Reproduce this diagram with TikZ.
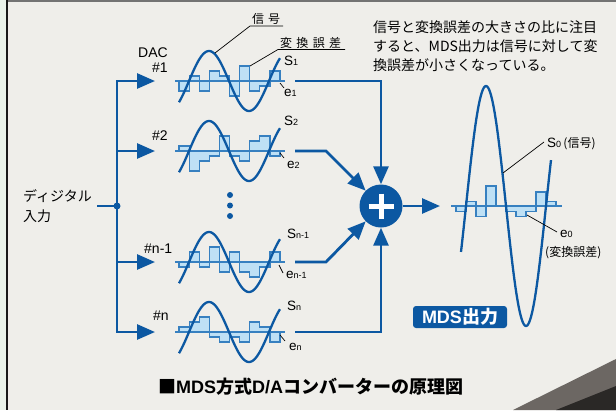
\documentclass[tikz,border=0pt]{standalone}
\usepackage{fontspec}
\setmainfont{Liberation Sans}
\newfontfamily\jp{Noto Sans CJK JP}
\usetikzlibrary{arrows.meta}
\definecolor{bg}{RGB}{239,238,234}
\definecolor{dblue}{RGB}{12,88,162}
\definecolor{mblue}{RGB}{55,128,192}
\definecolor{lblue}{RGB}{190,224,245}
\definecolor{lgreen}{RGB}{234,243,234}
\definecolor{wedgeA}{RGB}{108,103,99}
\definecolor{wedgeB}{RGB}{42,40,38}
\newcommand\sbs[1]{{\fontsize{9}{9}\selectfont #1}}
\newcommand\errsteps[4]{\filldraw[stepln] (#1,#3) \foreach \v [count=\i from 0] in {#4} { -- ({#1+#2*\i},{#3-(\v)}) -- ({#1+#2*\i+#2},{#3-(\v)}) } -- ({#1+10*#2},#3) -- cycle;}
\newcommand\dacwave[2]{%
  \errsteps{179}{10.1}{#1}{#2}
  \draw[baseln] (175,#1) -- (285,#1);
  \draw[sine] plot[domain=179:280,samples=90,smooth] (\x,{#1-30*cos((\x-209)*4.5)});
}
\begin{document}
\begin{tikzpicture}[x=1pt,y=-1pt,
  conn/.style={dblue, line width=2.8pt},
  tip/.style={-{Triangle[length=18pt,width=15pt]}},
  sine/.style={dblue, line width=2.3pt},
  stepln/.style={draw=mblue, fill=lblue, line width=1.2pt},
  baseln/.style={mblue, line width=1.3pt},
  leader/.style={black, line width=0.7pt},
  lab/.style={inner sep=0pt, anchor=base west},
  jpA/.style={font=\jp\fontsize{14}{18}\selectfont},
  jpB/.style={font=\jp\fontsize{12}{14}\selectfont},
  latA/.style={font=\fontsize{14}{16}\selectfont},
  sym/.style={font=\fontsize{13.5}{15}\selectfont},
]
\useasboundingbox (0,0) rectangle (616,410);
\fill[bg] (0,0) rectangle (616,410);
\fill[lgreen] (0,0) rectangle (6,410);
\fill[black!90] (6,0) rectangle (8,410);
\fill[black!55] (8,0) rectangle (616,1.6);
\fill[wedgeA] (513,410) -- (616,359) -- (616,410) -- cycle;
\fill[wedgeB] (556,410) -- (616,386) -- (616,410) -- cycle;

% DAC waves
\dacwave{81}{-10,5,-10,10,5,-15,15,-10,-5,10}
\dacwave{151}{5,-20,-10,-5,15,-5,-10,10,15,-5}
\dacwave{262}{-5,10,-5,15,-10,10,-10,-15,-5,10}
\dacwave{332}{5,10,15,-5,-10,-5,-10,10,5,-10}

% dots
\fill[dblue] (230,195) circle (3) (230,205.5) circle (3) (230,216) circle (3);

% input side
\node[jpA, lab] (inA) at (23,201) {ディジタル};
\node[jpA, lab] (inB) at (23,221) {入力};
\node[latA, lab] (dac) at (138,57) {DAC};
\node[latA, lab] (d1) at (152,72.5) {\#1};
\node[latA, lab] (d2) at (152,140) {\#2};
\node[latA, lab] (d3) at (144,253) {\#n-1};
\node[latA, lab] (d4) at (153,320) {\#n};

\coordinate (bt) at (117,81);
\coordinate (bb) at (117,332);
\coordinate (b2) at (117,151);
\coordinate (b3) at (117,262);
\coordinate (jn) at (117,206);
\coordinate (inl) at (97,206);
\coordinate (a1) at (155,81);
\coordinate (a2) at (155,151);
\coordinate (a3) at (155,262);
\coordinate (a4) at (155,332);
\draw[conn, {Triangle[length=18pt,width=15pt]}-{Triangle[length=18pt,width=15pt]}] (a1) -- (bt) -- (bb) -- (a4);
\draw[conn,tip] (b2) -- (a2);
\draw[conn,tip] (b3) -- (a3);
\draw[conn] (inl) -- (jn);
\fill[dblue] (jn) circle (3.5);

% adder
\node[circle, fill=dblue, minimum size=43pt, inner sep=0pt] (add) at (381,206) {};
\draw[white, line width=5pt] (add.center) ++(-12.5,0) -- ++(25,0) (add.center) ++(0,-12.5) -- ++(0,25);

\coordinate (o1) at (295,81);
\coordinate (o2) at (295,151);
\coordinate (k2) at (326,151);
\coordinate (o3) at (295,262);
\coordinate (k3) at (326,262);
\coordinate (o4) at (295,332);
\coordinate (oin) at (440,206);
\draw[conn,tip] (o1) -| (add.north);
\draw[conn,tip] (o2) -- (k2) -- (add.135);
\draw[conn,tip] (o3) -- (k3) -- (add.225);
\draw[conn,tip] (o4) -| (add.south);
\draw[conn,tip] (add.east) -- (oin);

% S / e labels
\node[sym, lab] (s1) at (284,65.5) {S\sbs{1}};
\node[sym, lab] (e1) at (284,96.5) {e\sbs{1}};
\node[sym, lab] (s2) at (284,125.5) {S\sbs{2}};
\node[sym, lab] (e2) at (287,168) {e\sbs{2}};
\node[sym, lab] (s3) at (287,238) {S\sbs{n-1}};
\node[sym, lab] (e3) at (286,278) {e\sbs{n-1}};
\node[sym, lab] (s4) at (287,310) {S\sbs{n}};
\node[sym, lab] (e4) at (289,350) {e\sbs{n}};
\coordinate (t1a) at (280,83);  \coordinate (t1b) at (284,88);
\coordinate (t2a) at (280,153); \coordinate (t2b) at (284,158);
\coordinate (t3a) at (279,265); \coordinate (t3b) at (283,273);
\coordinate (t4a) at (280,335); \coordinate (t4b) at (285,341);
\draw[leader] (t1a) -- (t1b) (t2a) -- (t2b) (t3a) -- (t3b) (t4a) -- (t4b);

% title labels
\node[jpB, lab] (tsig) at (252,23.5) {信\hspace{4pt}号};
\coordinate (u1a) at (250,26); \coordinate (u1b) at (283,26); \coordinate (p1) at (215,53);
\draw[leader] (u1b) -- (u1a) -- (p1);
\node[jpB, lab] (terr) at (280,47) {変\hspace{4.3pt}換\hspace{4.3pt}誤\hspace{4.3pt}差};
\coordinate (u2a) at (278,49.5); \coordinate (u2b) at (345,49.5); \coordinate (p2) at (250,66);
\draw[leader] (u2b) -- (u2a) -- (p2);

% paragraph
\node[jpA, lab] (paraA) at (373,32) {信号と変換誤差の大きさの比に注目};
\node[jpA, lab] (paraB) at (373,51) {すると、MDS出力は信号に対して変};
\node[jpA, lab] (paraC) at (373,70) {換誤差が小さくなっている。};

% output wave
\errsteps{456}{10}{206}{-5.5,4.5,-10.5,20,0,-5.5,-10.5,-5.5,14,4.5}
\draw[baseln] (451,206) -- (562,206);
\draw[sine] plot[domain=461:551,samples=120,smooth] (\x,{206-120*cos((\x-486)*4.5)});

\node[sym, lab] (s0) at (547,147) {S\sbs{0}\,{\jp\fontsize{12}{14}\selectfont (信号)}};
\coordinate (q1a) at (544,142); \coordinate (q1b) at (503,173);
\draw[leader] (q1a) -- (q1b);
\node[sym, lab] (e0) at (560,237) {e\sbs{0}};
\node[jpB, lab] (e0t) at (545,256) {(変換誤差)};
\coordinate (q2a) at (527,215); \coordinate (q2b) at (557,232);
\draw[leader] (q2a) -- (q2b);

\node[fill=dblue, rounded corners=3pt, minimum width=94pt, minimum height=22pt, inner sep=0pt, text=white, font=\bfseries\fontsize{18}{20}\selectfont] (mds) at (460,317) {MDS{\jp 出力}};

\node[lab, font=\jp\bfseries\fontsize{18}{20}\selectfont] (cap) at (158,393) {■{\rmfamily MDS}方式{\rmfamily D/A}コンバーターの原理図};
\end{tikzpicture}
\end{document}
